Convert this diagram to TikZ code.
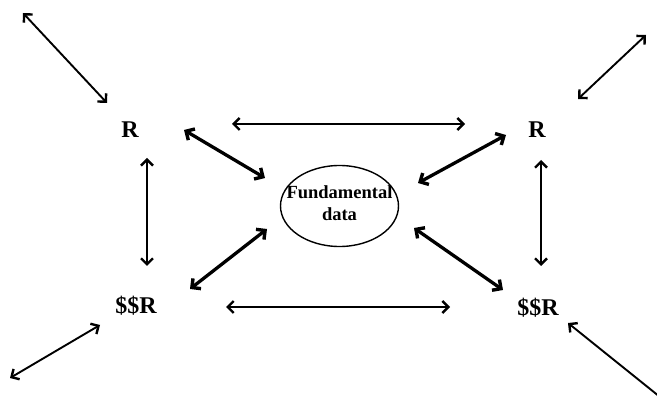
\documentclass[tikz,border=0pt]{standalone}
\usepackage{fontspec}
\setmainfont{Liberation Serif}
\usetikzlibrary{arrows.meta,shapes.geometric}
\begin{document}
\begin{tikzpicture}[x=1pt,y=-1pt,
  thinarr/.style={line width=1.9pt,{Straight Barb[length=6pt,width=12pt,line width=2.4pt]}-{Straight Barb[length=6pt,width=12pt,line width=2.4pt]}},
  thickarr/.style={line width=3.3pt,{Straight Barb[length=6.5pt,width=13pt,line width=3.4pt]}-{Straight Barb[length=6.5pt,width=13pt,line width=3.4pt]}},
  lbl/.style={font=\fontsize{24}{26}\selectfont\bfseries,inner sep=0pt},
  ell/.style={ellipse,draw,line width=1.4pt,minimum width=118pt,minimum height=81pt,inner sep=0pt},
  elltext/.style={align=center,inner sep=0pt,font=\fontsize{18.5}{22}\selectfont\bfseries}]
\useasboundingbox (0,0) rectangle (657,398);
\clip (0,0) rectangle (657,398);
\node[ell] (fd) at (339.5,206) {};
\node[elltext] (fdt) at (339.5,203) {Fundamental\\[0pt]data};
\node[lbl] (rl) at (130,130) {R};
\node[lbl] (rr) at (537,130) {R};
\node[lbl] (sl) at (136,306) {\$\$R};
\node[lbl] (sr) at (538,308) {\$\$R};
\coordinate (a1) at (23,13);  \coordinate (a2) at (107,103);
\coordinate (b1) at (578,99); \coordinate (b2) at (646,35);
\coordinate (c1) at (10,378); \coordinate (c2) at (100,325);
\coordinate (d1) at (568,323); \coordinate (d2) at (670,405);
\coordinate (h1) at (232,124); \coordinate (h2) at (465,124);
\coordinate (g1) at (226,307); \coordinate (g2) at (450,307);
\coordinate (v1) at (147,158); \coordinate (v2) at (147,266);
\coordinate (w1) at (541,160); \coordinate (w2) at (541,266);
\coordinate (t1) at (184,130); \coordinate (t2) at (265,178);
\coordinate (u1) at (190,289); \coordinate (u2) at (267,229);
\coordinate (p1) at (418,183); \coordinate (p2) at (506,135);
\coordinate (q1) at (414,228); \coordinate (q2) at (503,290);
\draw[thinarr] (a1) -- (a2);
\draw[thinarr] (b1) -- (b2);
\draw[thinarr] (c1) -- (c2);
\draw[thinarr] (d1) -- (d2);
\draw[thinarr] (h1) -- (h2);
\draw[thinarr] (g1) -- (g2);
\draw[thinarr] (v1) -- (v2);
\draw[thinarr] (w1) -- (w2);
\draw[thickarr] (t1) -- (t2);
\draw[thickarr] (u1) -- (u2);
\draw[thickarr] (p1) -- (p2);
\draw[thickarr] (q1) -- (q2);
\end{tikzpicture}
\end{document}
